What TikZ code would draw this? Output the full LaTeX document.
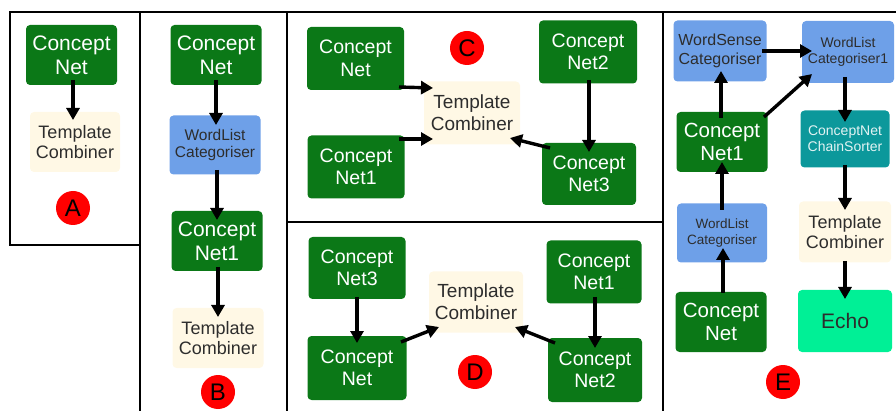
\documentclass[tikz,border=0pt]{standalone}
\usepackage{fontspec}
\setmainfont{Liberation Sans}
\usetikzlibrary{arrows.meta}
\definecolor{cgreen}{RGB}{11,120,23}
\definecolor{cblue}{RGB}{110,160,232}
\definecolor{ccream}{RGB}{255,248,229}
\definecolor{cteal}{RGB}{12,152,155}
\definecolor{cecho}{RGB}{0,240,150}
\definecolor{ctext}{RGB}{45,45,45}
\newcommand{\fs}[1]{\fontsize{#1pt}{\dimexpr #1pt*115/100\relax}\selectfont}
\tikzset{
  box/.style={rounded corners=4pt, align=center, inner sep=0pt},
  gnet/.style={box, fill=cgreen, text=white},
  wbox/.style={box, fill=cblue, text=ctext},
  tbox/.style={box, fill=ccream, text=ctext},
  sbox/.style={box, fill=cteal, text=white!88!cteal},
  ebox/.style={box, fill=cecho, text=ctext},
  tag/.style={circle, fill=red, text=black, minimum size=34pt, inner sep=0pt, font=\fontsize{24pt}{26pt}\selectfont},
  arr/.style={draw=black, line width=3.4pt, -{Triangle[length=12pt,width=13pt]}},
  frame/.style={line width=1.8pt, line cap=rect}
}
\begin{document}
\begin{tikzpicture}[x=1pt,y=-1pt]
\useasboundingbox (0,0) rectangle (896,411);
% frames
\draw[frame] (10,245) -- (10,12) -- (896,12);
\draw[frame] (10,245) -- (140,245);
\draw[frame] (140,12) -- (140,411);
\draw[frame] (287,12) -- (287,411);
\draw[frame] (663,12) -- (663,411);
\draw[frame] (287,222) -- (663,222);
% Panel A
\node[gnet, minimum width=91pt, minimum height=60pt, font=\fs{21}] (aN) at (71.5,55) {Concept\\Net};
\node[tbox, minimum width=90pt, minimum height=60pt, font=\fs{18}] (aT) at (75,142) {Template\\Combiner};
\node[tag] (aC) at (73,208) {A};
\draw[arr] ([shift={(1.5,25)}]aN.center) -- ([shift={(-2,-22)}]aT.center);
% Panel B
\node[gnet, minimum width=91pt, minimum height=60pt, font=\fs{21}] (bN) at (216,55) {Concept\\Net};
\node[wbox, minimum width=91pt, minimum height=59pt, font=\fs{15.5}] (bW) at (215,145) {WordList\\Categoriser};
\node[gnet, minimum width=91pt, minimum height=60pt, font=\fs{21}] (bN1) at (217,241) {Concept\\Net1};
\node[tbox, minimum width=91pt, minimum height=60pt, font=\fs{18}] (bT) at (218,338) {Template\\Combiner};
\node[tag] (bC) at (218,392) {B};
\draw[arr] ([shift={(0,25)}]bN.center) -- ([shift={(1,-20)}]bW.center);
\draw[arr] ([shift={(2,25)}]bW.center) -- ([shift={(0,-21)}]bN1.center);
\draw[arr] ([shift={(1,26)}]bN1.center) -- ([shift={(0,-21)}]bT.center);
% Panel C
\node[gnet, minimum width=97pt, minimum height=63pt, font=\fs{19.5}] (cN) at (355.5,58.5) {Concept\\Net};
\node[gnet, minimum width=97pt, minimum height=63pt, font=\fs{19.5}] (cN1) at (356,167) {Concept\\Net1};
\node[tbox, minimum width=96pt, minimum height=63pt, font=\fs{19}] (cT) at (472,113) {Template\\Combiner};
\node[gnet, minimum width=98pt, minimum height=63pt, font=\fs{19.5}] (cN2) at (588,52) {Concept\\Net2};
\node[gnet, minimum width=94pt, minimum height=62pt, font=\fs{19.5}] (cN3) at (589,174) {Concept\\Net3};
\node[tag] (cC) at (467,48) {C};
\draw[arr] ([shift={(43.5,28.5)}]cN.center) -- ([shift={(-39,-25)}]cT.center);
\draw[arr] ([shift={(43,-28)}]cN1.center) -- ([shift={(-39,26)}]cT.center);
\draw[arr] ([shift={(1,28)}]cN2.center) -- ([shift={(0,-22)}]cN3.center);
\draw[arr] ([shift={(-39,-26)}]cN3.center) -- ([shift={(38,25)}]cT.center);
% Panel D
\node[gnet, minimum width=97pt, minimum height=62pt, font=\fs{19.5}] (dN3) at (357,268) {Concept\\Net3};
\node[gnet, minimum width=99pt, minimum height=64pt, font=\fs{19.5}] (dN) at (357,368) {Concept\\Net};
\node[tbox, minimum width=94pt, minimum height=61pt, font=\fs{19}] (dT) at (476,302) {Template\\Combiner};
\node[gnet, minimum width=95pt, minimum height=63pt, font=\fs{19.5}] (dN1) at (594,272) {Concept\\Net1};
\node[gnet, minimum width=94pt, minimum height=64pt, font=\fs{19.5}] (dN2) at (595,370) {Concept\\Net2};
\node[tag] (dC) at (475,372) {D};
\draw[arr] ([shift={(0,29)}]dN3.center) -- ([shift={(0,-25)}]dN.center);
\draw[arr] ([shift={(44,-26)}]dN.center) -- ([shift={(-37,25)}]dT.center);
\draw[arr] ([shift={(1,25)}]dN1.center) -- ([shift={(0,-22)}]dN2.center);
\draw[arr] ([shift={(-40,-27)}]dN2.center) -- ([shift={(39,25)}]dT.center);
% Panel E
\node[wbox, minimum width=93pt, minimum height=61pt, font=\fs{16}] (eWS) at (720,51) {WordSense\\Categoriser};
\node[wbox, minimum width=92pt, minimum height=62pt, font=\fs{14}] (eWL1) at (848,52) {WordList\\Categoriser1};
\node[gnet, minimum width=91pt, minimum height=60pt, font=\fs{20.5}] (eN1) at (722,142) {Concept\\Net1};
\node[sbox, minimum width=89pt, minimum height=57pt, font=\fs{14}] (eCS) at (845,139) {ConceptNet\\ChainSorter};
\node[wbox, minimum width=90pt, minimum height=59pt, font=\fs{13.5}] (eWL) at (722,233) {WordList\\Categoriser};
\node[tbox, minimum width=92pt, minimum height=61pt, font=\fs{18}] (eT) at (845,232) {Template\\Combiner};
\node[gnet, minimum width=91pt, minimum height=60pt, font=\fs{20.5}] (eN) at (721,322) {Concept\\Net};
\node[ebox, minimum width=94pt, minimum height=62pt, font=\fs{21}] (eE) at (845,321) {Echo};
\node[tag] (eC) at (783,382) {E};
\draw[arr] ([shift={(2,-29)}]eN.center) -- ([shift={(1,15)}]eWL.center);
\draw[arr] ([shift={(0,-23)}]eWL.center) -- ([shift={(0,20)}]eN1.center);
\draw[arr] ([shift={(-1,-24)}]eN1.center) -- ([shift={(1,20)}]eWS.center);
\draw[arr] ([shift={(42,-25)}]eN1.center) -- ([shift={(-36,22)}]eWL1.center);
\draw[arr] ([shift={(42,0)}]eWS.center) -- ([shift={(-36,-1)}]eWL1.center);
\draw[arr] ([shift={(-3,25)}]eWL1.center) -- ([shift={(0,-17)}]eCS.center);
\draw[arr] ([shift={(0,26)}]eCS.center) -- ([shift={(0,-22)}]eT.center);
\draw[arr] ([shift={(0,29)}]eT.center) -- ([shift={(0,-22)}]eE.center);
\end{tikzpicture}
\end{document}
